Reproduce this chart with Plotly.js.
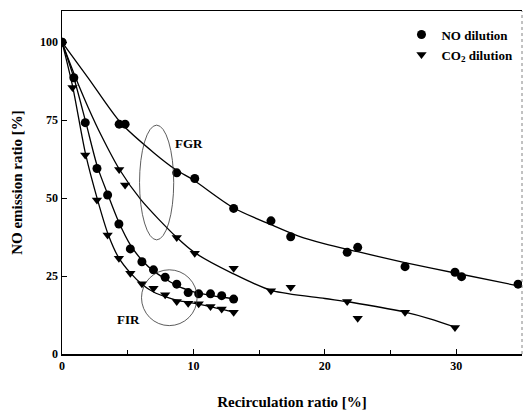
<!DOCTYPE html>
<html>
<head>
<meta charset="utf-8">
<script src="https://cdn.plot.ly/plotly-3.0.1.min.js"></script>
<style>html,body{margin:0;padding:0;background:#fff;}#chart{width:524px;height:410px;}</style>
</head>
<body>
<div id="chart"></div>
<script>
// Measured points
const fgrNoX = [0, 4.35, 4.8, 8.73, 10.1, 13.06, 15.9, 17.4, 21.7, 22.5, 26.1, 29.9, 30.4, 34.7];
const fgrNoY = [100, 73.7, 73.7, 58.1, 56.3, 46.7, 42.7, 37.6, 32.6, 34.2, 28.0, 26.2, 24.8, 22.4];
const fgrCo2X = [4.35, 4.8, 8.73, 10.1, 13.06, 15.9, 17.4, 21.7, 22.5, 26.1, 29.9];
const fgrCo2Y = [59.2, 54.2, 37.4, 32.3, 27.5, 20.3, 21.4, 16.8, 11.5, 13.4, 8.5];
const firNoX = [0, 0.9, 1.77, 2.66, 3.47, 4.33, 5.2, 6.08, 6.96, 7.85, 8.73, 9.6, 10.4, 11.3, 12.15, 13.06];
const firNoY = [100, 88.6, 74.2, 59.5, 51.0, 41.7, 33.7, 29.6, 27.0, 24.6, 22.4, 19.7, 19.3, 19.3, 18.7, 17.6];
const firCo2X = [0.8, 1.77, 2.66, 3.47, 4.33, 5.2, 6.08, 6.96, 7.85, 8.73, 9.6, 10.4, 11.3, 12.15, 13.06];
const firCo2Y = [85.5, 63.8, 49.4, 38.2, 30.7, 25.9, 22.5, 21.1, 19.0, 16.8, 16.3, 16.1, 15.2, 14.4, 13.4];

// Fitted curves
const fitFgrNoX = [0, 2, 4.5, 7, 8.7, 10, 13, 16, 18, 20, 22.5, 26, 30, 35];
const fitFgrNoY = [100, 88.5, 74, 64.5, 59, 55.8, 47, 41.3, 37.8, 35.3, 32.8, 29.4, 25.9, 21.6];
const fitFgrCo2X = [0, 1, 2, 3, 4.4, 6, 8.7, 10.1, 13, 16, 20, 22, 26, 28, 30];
const fitFgrCo2Y = [100, 89, 79, 70, 59, 49.5, 37.5, 32.5, 25.8, 20.3, 17.8, 16.6, 13.5, 11.3, 8.5];
const fitFirNoX = [0, 0.9, 1.8, 2.7, 3.5, 4.3, 5.2, 6.1, 7, 7.9, 8.7, 9.6, 10.4, 11.3, 12.2, 13.06];
const fitFirNoY = [100, 88.6, 74.5, 60, 51, 42.5, 35, 30, 26.5, 24, 22, 20.5, 19.5, 18.8, 18.2, 17.7];
const fitFirCo2X = [0, 0.8, 1.8, 2.7, 3.5, 4.3, 5.2, 6.1, 7, 7.9, 8.7, 9.6, 10.4, 11.3, 12.2, 13.06];
const fitFirCo2Y = [100, 86, 64, 49.5, 38.5, 31, 26, 22.3, 19.8, 18.3, 17.3, 16.6, 16, 15.2, 14.3, 13.4];

const xTicks = [0, 10, 20, 30];
const yTicks = [0, 25, 50, 75, 100];
const seriesNames = ['NO dilution', 'CO<sub>2</sub> dilution'];

const serif = 'Liberation Serif, Times New Roman, serif';
const lineStyle = {color: '#000', width: 1.3, shape: 'spline', smoothing: 0.8};
const circ = {symbol: 'circle', size: 9, color: '#000'};
const tri = {symbol: 'triangle-down', size: 9, color: '#000'};

function fit(x, y) { return {x: x, y: y, mode: 'lines', line: lineStyle, showlegend: false, hoverinfo: 'skip'}; }

const data = [
  fit(fitFgrNoX, fitFgrNoY), fit(fitFgrCo2X, fitFgrCo2Y), fit(fitFirNoX, fitFirNoY), fit(fitFirCo2X, fitFirCo2Y),
  {x: firNoX, y: firNoY, mode: 'markers', marker: circ, name: seriesNames[0], showlegend: true},
  {x: firCo2X, y: firCo2Y, mode: 'markers', marker: tri, name: seriesNames[1], showlegend: true},
  {x: fgrNoX, y: fgrNoY, mode: 'markers', marker: circ, showlegend: false},
  {x: fgrCo2X, y: fgrCo2Y, mode: 'markers', marker: tri, showlegend: false}
];

const layout = {
  width: 524, height: 410,
  margin: {l: 62, r: 2, t: 11, b: 56},
  paper_bgcolor: '#fff', plot_bgcolor: '#fff',
  font: {family: serif, color: '#000', size: 12},
  showlegend: true,
  legend: {x: 0.738, y: 0.975, xanchor: 'left', yanchor: 'top', bgcolor: 'rgba(0,0,0,0)',
           font: {family: serif, size: 13, color: '#000', weight: 'bold'}, itemwidth: 30},
  xaxis: {range: [0, 35], tickvals: xTicks, ticktext: xTicks.map(String),
          ticks: 'inside', ticklen: 5, tickwidth: 1, tickcolor: '#000',
          minor: {tickvals: [5, 15, 25], ticks: 'inside', ticklen: 4, tickcolor: '#000'},
          showgrid: false, zeroline: false, showline: true, linecolor: '#000', linewidth: 1.5, mirror: true,
          tickfont: {family: serif, size: 12, weight: 'bold'},
          title: {text: 'Recirculation ratio [%]', font: {family: serif, size: 15, weight: 'bold'}, standoff: 25}},
  yaxis: {range: [0, 110], tickvals: yTicks, ticktext: yTicks.map(String),
          ticks: 'inside', ticklen: 5, tickwidth: 1, tickcolor: '#000',
          showgrid: false, zeroline: false, showline: true, linecolor: '#000', linewidth: 1.5,
          tickfont: {family: serif, size: 12, weight: 'bold'},
          title: {text: 'NO emission ratio [%]', font: {family: serif, size: 15, weight: 'bold'}, standoff: 14}},
  shapes: [
    {type: 'circle', xref: 'x', yref: 'y', x0: 5.9, x1: 8.5, y0: 36.6, y1: 73.4, line: {color: '#333', width: 0.8}},
    {type: 'circle', xref: 'x', yref: 'y', x0: 6.05, x1: 10.28, y0: 9.1, y1: 27.0, line: {color: '#333', width: 0.8}},
    {type: 'line', xref: 'paper', yref: 'paper', x0: 1, x1: 1, y0: 0, y1: 1, line: {color: '#666', width: 0.8, dash: 'dot'}}
  ],
  annotations: [
    {x: 9.67, y: 67.5, xref: 'x', yref: 'y', text: 'FGR', showarrow: false, xanchor: 'center', font: {family: serif, size: 13, weight: 'bold'}},
    {x: 5.06, y: 11.2, xref: 'x', yref: 'y', text: 'FIR', showarrow: false, xanchor: 'center', font: {family: serif, size: 13, weight: 'bold'}}
  ]
};

Plotly.newPlot('chart', data, layout, {displayModeBar: false, staticPlot: true});
</script>
</body>
</html>
